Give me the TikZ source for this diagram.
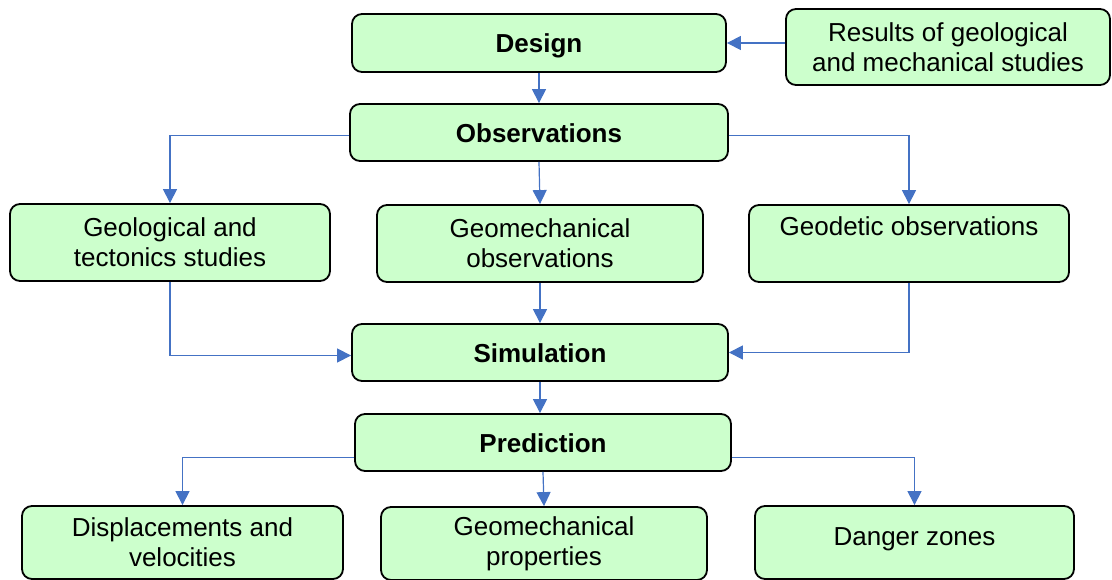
\documentclass[tikz,border=0pt]{standalone}
\usepackage{fontspec}
\setmainfont{Liberation Sans}
\usetikzlibrary{arrows.meta}

\definecolor{boxgreen}{HTML}{CCFFCC}
\definecolor{linkblue}{HTML}{4472C4}

\tikzset{
    stage/.style={draw=black, line width=1.8pt, fill=boxgreen, rounded corners=10pt,
        align=center, inner sep=0pt, font=\fontsize{26}{30}\selectfont},
    mainstage/.style={stage, minimum height=57pt, text height=20pt, text depth=0pt,
        font=\fontsize{26}{30}\selectfont\bfseries},
    link/.style={linkblue, line width=1.2pt, -{Triangle[length=14pt, width=14pt]}}
}

\begin{document}
\begin{tikzpicture}[x=1pt, y=-1pt]
            \useasboundingbox (0, 0) rectangle (1112, 580);

            \node[mainstage, minimum width=374pt, minimum height=58pt] (design) at (539, 43) {Design};
            \node[stage, minimum width=324pt, minimum height=76pt] (results) at (948, 47) {Results of geological\\and mechanical studies};
            \node[mainstage, minimum width=378pt] (obs) at (539, 132.5) {Observations};

            \node[stage, minimum width=320pt, minimum height=77pt] (geol) at (170, 242.5) {Geological and\\tectonics studies};
            \node[stage, minimum width=326pt, minimum height=77pt] (geomech) at (540, 243.5) {Geomechanical\\observations};
            \node[stage, minimum width=320pt, minimum height=77pt, text height=19pt, text depth=35pt] (geodetic) at (909, 243.5) {Geodetic observations};

            \node[mainstage, minimum width=376pt] (sim) at (540, 352.5) {Simulation};
            \node[mainstage, minimum width=376pt] (pred) at (543, 442.5) {Prediction};

            \node[stage, minimum width=321pt, minimum height=73pt] (disp) at (182.5, 542.5) {Displacements and\\velocities};
            \node[stage, minimum width=326pt, minimum height=73pt] (props) at (544, 543.5) {Geomechanical\\properties};
            \node[stage, minimum width=319pt, minimum height=73pt, text height=19pt, text depth=13pt] (danger) at (914.5, 542.5) {Danger zones};

            \draw[link] (results.west |- design.east) -- (design.east);
            \draw[link] (design.south) -- (obs.north);

            \draw[link] ([yshift=-3pt]obs.west) -| (geol.north);
            \draw[link] (obs.south) -- (geomech.north);
            \draw[link] ([yshift=-3pt]obs.east) -| (geodetic.north);

            \draw[link] (geol.south) |- ([yshift=-3pt]sim.west);
            \draw[link] (geomech.south) -- (sim.north);
            \draw[link] (geodetic.south) |- (sim.east);

            \draw[link] (sim.south) -- (sim.south |- pred.north);
            \draw[link] ([yshift=-15pt]pred.west) -| (disp.north);
            \draw[link] (pred.south) -- (props.north);
            \draw[link] ([yshift=-15pt]pred.east) -| (danger.north);
        \end{tikzpicture}
\end{document}
